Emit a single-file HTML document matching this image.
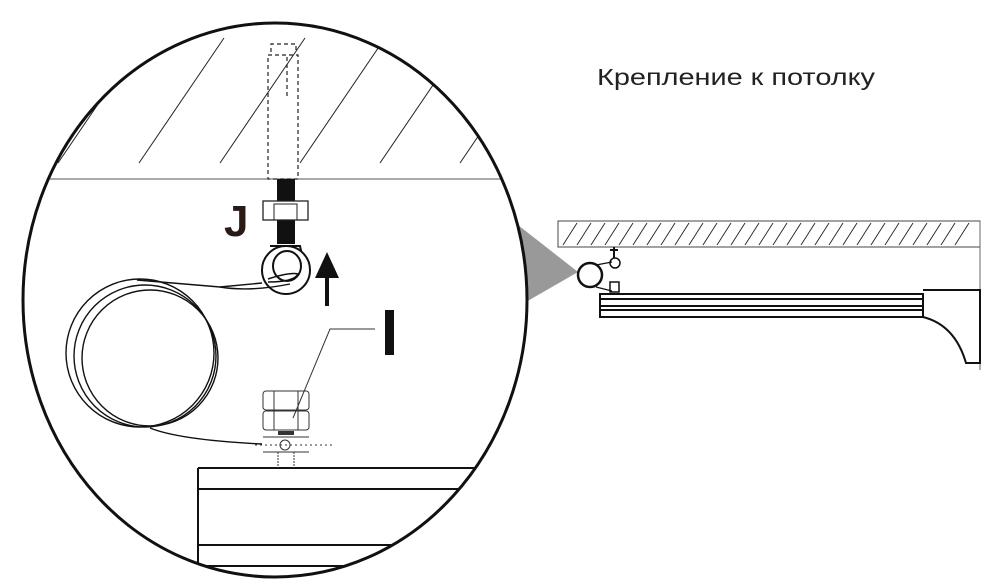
<!DOCTYPE html>
<html><head><meta charset="utf-8"><style>html,body{margin:0;padding:0;background:#fff}svg{display:block}</style></head>
<body>
<svg width="995" height="581" viewBox="0 0 995 581" xmlns="http://www.w3.org/2000/svg" font-family="Liberation Sans, sans-serif">
<defs>
<clipPath id="ec"><ellipse cx="275" cy="300" rx="252" ry="277"/></clipPath>
</defs>
<rect width="995" height="581" fill="#fff"/>
<text x="597" y="85" font-size="23" fill="#222" textLength="278" lengthAdjust="spacingAndGlyphs">Крепление к потолку</text>
<polygon points="518,225 578,272 512,310" fill="#999"/>
<g clip-path="url(#ec)">
<rect x="0" y="0" width="600" height="600" fill="#fff"/>
<g stroke="#222" stroke-width="1" fill="none">
<line x1="58" y1="163" x2="143" y2="38"/>
<line x1="139" y1="163" x2="224" y2="38"/>
<line x1="220" y1="163" x2="305" y2="38"/>
<line x1="300" y1="163" x2="385" y2="38"/>
<line x1="380" y1="163" x2="465" y2="38"/>
<line x1="460" y1="163" x2="545" y2="38"/>
<line x1="0" y1="179" x2="600" y2="179" stroke="#555"/>
</g>
<g stroke="#111" stroke-width="2" fill="none">
<line x1="198" y1="468" x2="600" y2="468"/>
<line x1="198" y1="489" x2="600" y2="489"/>
<line x1="198" y1="545" x2="600" y2="545"/>
<line x1="198" y1="566" x2="600" y2="566"/>
<line x1="198" y1="468" x2="198" y2="600"/>
</g>
</g>
<ellipse cx="275" cy="300" rx="252" ry="277" fill="none" stroke="#111" stroke-width="3"/>
<g stroke="#222" stroke-width="1.2" fill="none" stroke-dasharray="4,3">
<rect x="268" y="55" width="30" height="124"/>
<polyline points="271,52 271,44 296,44 296,52"/>
<line x1="287" y1="57" x2="287" y2="97"/>
</g>
<rect x="277" y="179" width="18" height="65" fill="#111"/>
<rect x="263" y="201" width="45" height="19" fill="#fff" stroke="#222" stroke-width="1.3"/>
<rect x="274" y="204" width="23" height="16" fill="none" stroke="#222" stroke-width="1"/>
<text x="224" y="236" font-size="44" font-weight="bold" fill="#2a1a16">J</text>
<path d="M270,246 L300,246 L302,255" fill="none" stroke="#111" stroke-width="2"/>
<circle cx="286" cy="270" r="24" fill="#fff" stroke="#111" stroke-width="2"/>
<ellipse cx="287" cy="266" rx="14" ry="15" fill="none" stroke="#111" stroke-width="2"/>
<path d="M268,279 Q290,272 298,274 Q294,282 268,282" fill="none" stroke="#111" stroke-width="1.5"/>
<line x1="327" y1="306" x2="327" y2="272" stroke="#111" stroke-width="4"/>
<polygon points="315,278 327,252 339,278" fill="#111"/>
<g fill="none" stroke="#111" stroke-width="1.4">
<circle cx="140" cy="353" r="74"/>
<circle cx="145" cy="356" r="71"/>
<circle cx="150" cy="358" r="68"/>
<path d="M137,280 L220,287 L262,283"/>
<path d="M220,287 Q250,292 290,284"/>
<path d="M150,428 Q180,440 262,444"/>
</g>
<rect x="385" y="310" width="9" height="45" fill="#111"/>
<polyline points="375,329 330,329 293,418" fill="none" stroke="#333" stroke-width="1"/>
<g stroke="#333" stroke-width="1" fill="none">
<rect x="263" y="391" width="46" height="19" rx="3"/>
<line x1="274" y1="391" x2="274" y2="410"/><line x1="298" y1="391" x2="298" y2="410"/>
<rect x="263" y="411" width="46" height="19" rx="3"/>
<line x1="274" y1="411" x2="274" y2="430"/><line x1="298" y1="411" x2="298" y2="430"/>
<line x1="263" y1="437" x2="309" y2="437"/>
<line x1="263" y1="452" x2="309" y2="452"/>
<circle cx="285" cy="445" r="5"/>
<line x1="255" y1="445" x2="333" y2="445" stroke-dasharray="2,3"/>
<line x1="278" y1="452" x2="278" y2="468" stroke-dasharray="2,1"/>
<line x1="294" y1="452" x2="294" y2="468" stroke-dasharray="2,1"/>
</g>
<rect x="278" y="431" width="16" height="4" fill="#333"/>
<rect x="558" y="221" width="422" height="26" fill="#fff" stroke="#444" stroke-width="1"/>
<g stroke="#222" stroke-width="0.9">
<path d="M563,245 l14,-22 M577,245 l14,-22 M591,245 l14,-22 M605,245 l14,-22 M619,245 l14,-22 M633,245 l14,-22 M647,245 l14,-22 M661,245 l14,-22 M675,245 l14,-22 M689,245 l14,-22 M703,245 l14,-22 M717,245 l14,-22 M731,245 l14,-22 M745,245 l14,-22 M759,245 l14,-22 M773,245 l14,-22 M787,245 l14,-22 M801,245 l14,-22 M815,245 l14,-22 M829,245 l14,-22 M843,245 l14,-22 M857,245 l14,-22 M871,245 l14,-22 M885,245 l14,-22 M899,245 l14,-22 M913,245 l14,-22 M927,245 l14,-22 M941,245 l14,-22 M955,245 l14,-22"/>
</g>
<line x1="980" y1="221" x2="980" y2="370" stroke="#666" stroke-width="1"/>
<circle cx="590" cy="275" r="12" fill="none" stroke="#111" stroke-width="2.5"/>
<path d="M596,265 L612,262 M596,287 L612,291" stroke="#111" stroke-width="1.2"/>
<line x1="614" y1="247" x2="614" y2="258" stroke="#111" stroke-width="2"/>
<line x1="610" y1="250" x2="618" y2="250" stroke="#111" stroke-width="2"/>
<circle cx="615" cy="263" r="5" fill="none" stroke="#111" stroke-width="1.5"/>
<rect x="610" y="282" width="9" height="10" fill="none" stroke="#111" stroke-width="1.5"/>
<g fill="none" stroke="#111" stroke-width="2">
<rect x="600" y="294" width="323" height="23"/>
<line x1="600" y1="299" x2="923" y2="299"/>
<line x1="600" y1="306" x2="923" y2="306"/>
<line x1="600" y1="310" x2="923" y2="310"/>
<path d="M923,290 L980,290 L980,363 L966,363 Q955,325 923,317"/>
</g>
</svg>
</body></html>
